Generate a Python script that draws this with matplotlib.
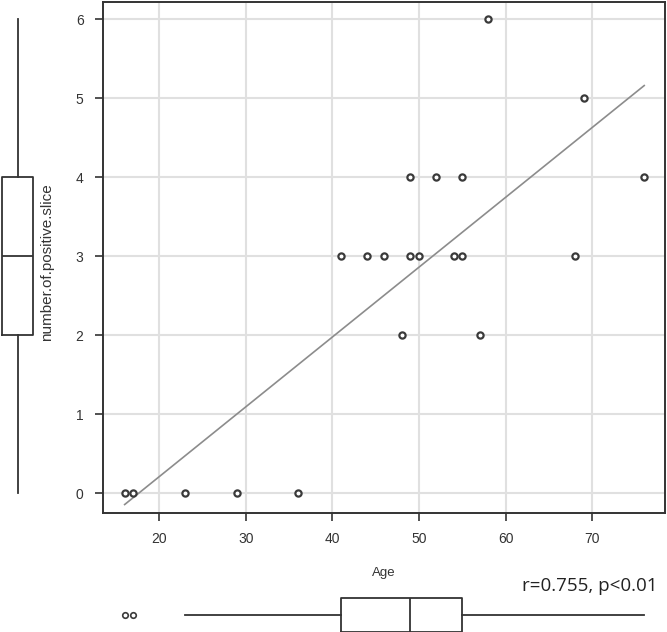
import numpy as np
import matplotlib
matplotlib.use("Agg")
import matplotlib.pyplot as plt

# data
age = [16, 17, 23, 29, 36,
       41, 44, 46, 49, 50, 54, 55, 68,
       49, 52, 55, 76,
       69, 58, 48, 57]
slices = [0, 0, 0, 0, 0,
          3, 3, 3, 3, 3, 3, 3, 3,
          4, 4, 4, 4,
          5, 6, 2, 2]
x_ticks = [20, 30, 40, 50, 60, 70]
y_ticks = [0, 1, 2, 3, 4, 5, 6]
stat_text = "r=0.755, p<0.01"

W, H = 667, 632
fig = plt.figure(figsize=(W / 100, H / 100), dpi=100)
plt.rcParams['font.family'] = ['Liberation Sans', 'DejaVu Sans']

dark = "#333333"
edge = "#3a3a3a"

def px(l, t, r, b):
    return [l / W, 1 - b / H, (r - l) / W, (b - t) / H]

# main scatter
ax = fig.add_axes(px(103, 2, 665, 513))
ax.scatter(age, slices, s=20, facecolors="white", edgecolors=edge, linewidths=1.6, zorder=3)
k, c = np.polyfit(age, slices, 1)
xs = np.array([min(age), max(age)])
ax.plot(xs, k * xs + c, color="#8c8c8c", lw=1.2, zorder=2)
ax.set_xlim(13.5, 78.4)
ax.set_ylim(-0.25, 6.22)
ax.set_xticks(x_ticks)
ax.set_yticks(y_ticks)
ax.grid(True, color="#e0e0e0", lw=1.5)
ax.set_axisbelow(True)
for s in ax.spines.values():
    s.set_color(dark)
    s.set_linewidth(1.4)
ax.tick_params(direction="out", length=6, width=1.2, color=dark,
               labelsize=10, labelcolor=dark, pad=8)
ax.set_xlabel("Age", fontsize=9.5, color=dark, labelpad=15)

fig.text(47 / W, 1 - 262 / H, "number.of.positive.slice", rotation=90,
         ha="center", va="center", fontsize=11, color=dark)

box_kw = dict(widths=0.88, showcaps=False, patch_artist=False,
              boxprops=dict(color=dark, lw=1.3),
              whiskerprops=dict(color=dark, lw=1.3),
              medianprops=dict(color=dark, lw=1.3),
              flierprops=dict(marker="o", markersize=4, markerfacecolor="white",
                              markeredgecolor=edge, markeredgewidth=1.2))

# left boxplot (y)
axl = fig.add_axes(px(0, 2, 35, 513), sharey=ax)
axl.boxplot(slices, positions=[0.5], whis=1.5, **box_kw)
axl.set_xlim(0, 1)
axl.axis("off")

# bottom boxplot (x)
axb = fig.add_axes(px(103, 595, 665, 635), sharex=ax)
box_kw["widths"] = 0.85
axb.boxplot(age, positions=[0.5], vert=False, whis=1.5, **box_kw)
axb.set_ylim(0, 1)
axb.axis("off")

fig.text(657 / W, 1 - 586 / H, stat_text, ha="right", va="center",
         fontsize=13.5, color="#222222", family=["Open Sans", "DejaVu Sans"])

fig.savefig("out.png", dpi=100)
